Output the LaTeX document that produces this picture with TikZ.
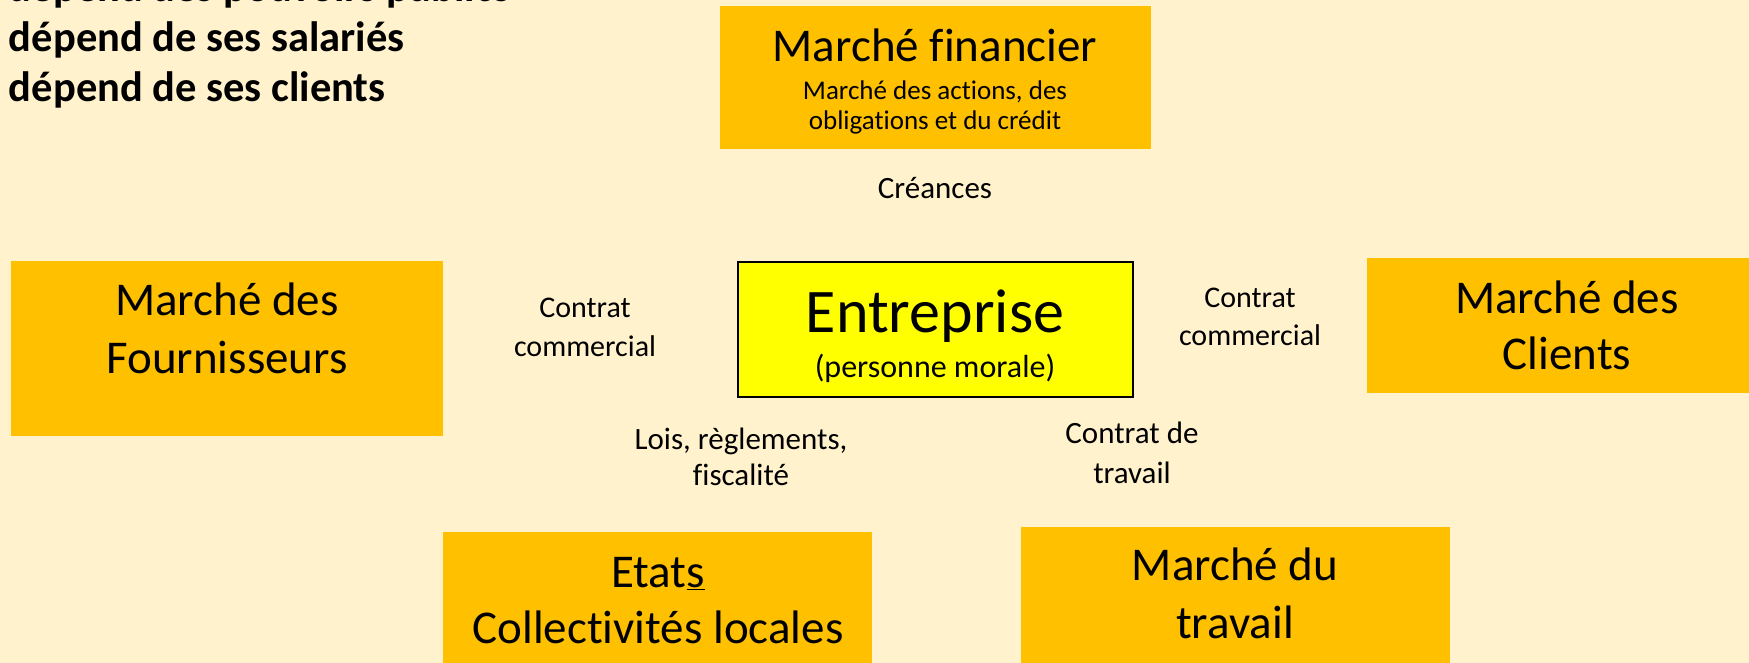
\documentclass[tikz,border=0pt]{standalone}
\usepackage{fontspec}
\setmainfont{Carlito}[Ligatures=NoCommon]
\definecolor{cream}{HTML}{FFF2CC}
\definecolor{gold}{HTML}{FFC000}
\definecolor{brightyellow}{HTML}{FFFF00}
\newcommand\pxsize[1]{\fontsize{#1}{#1}\selectfont}
\begin{document}
\begin{tikzpicture}[x=1pt,y=-1pt,
  market/.style={fill=gold, draw=none, inner sep=0pt, outer sep=0pt, anchor=north west},
  core/.style={fill=brightyellow, draw=black, line width=2pt, inner sep=0pt, outer sep=0pt, anchor=north west},
  txt/.style={inner sep=0pt, outer sep=0pt, anchor=base},
  note/.style={inner sep=0pt, outer sep=0pt, anchor=base west, font=\bfseries\pxsize{42.5}}]
\useasboundingbox (0,0) rectangle (1749,663);
\clip (0,0) rectangle (1749,663);
\fill[cream] (0,0) rectangle (1749,663);

% dependencies listed at the top left (first line runs off the top edge)
\node[note] (dep1) at (9,2)   {dépend des pouvoirs publics};
\node[note] (dep2) at (9,52)  {dépend de ses salariés};
\node[note] (dep3) at (9,102) {dépend de ses clients};

% financial market
\node[market, minimum width=431pt, minimum height=143pt] (fin) at (720,6) {};
\node[txt, font=\pxsize{47}] (fint) at (935,62) {Marché financier};
\node[txt, font=\pxsize{27}] (fins1) at (935,100) {Marché des actions, des};
\node[txt, font=\pxsize{27}] (fins2) at (935,130) {obligations et du crédit};
\node[txt, font=\pxsize{31}] (creances) at (935,199) {Créances};

% suppliers
\node[market, minimum width=432pt, minimum height=175pt] (four) at (11,261) {};
\node[txt, font=\pxsize{47}] (four1) at (227,316) {Marché des};
\node[txt, font=\pxsize{47}] (four2) at (227,373) {Fournisseurs};
\node[txt, font=\pxsize{30}] (cc1a) at (585,317) {Contrat};
\node[txt, font=\pxsize{30}] (cc1b) at (585,356) {commercial};

% the firm
\node[core, minimum width=395pt, minimum height=135pt] (ent) at (738,262) {};
\node[txt, font=\pxsize{62}] (ent1) at (935,332) {Entreprise};
\node[txt, font=\pxsize{32}] (ent2) at (935,377) {(personne morale)};

% customers
\node[txt, font=\pxsize{30}] (cc2a) at (1250,308) {Contrat};
\node[txt, font=\pxsize{30}] (cc2b) at (1250,345) {commercial};
\node[market, minimum width=400pt, minimum height=135pt] (cli) at (1367,258) {};
\node[txt, font=\pxsize{47}] (cli1) at (1567,313) {Marché des};
\node[txt, font=\pxsize{47}] (cli2) at (1567,369) {Clients};

% public authorities
\node[txt, font=\pxsize{31}] (lois1) at (741,449) {Lois, règlements,};
\node[txt, font=\pxsize{31}] (lois2) at (741,485) {fiscalité};
\node[market, minimum width=429pt, minimum height=150pt] (etat) at (443,532) {};
\node[txt, font=\pxsize{47}] (etat1) at (658,587) {Etat\underline{s}};
\node[txt, font=\pxsize{47}] (etat2) at (658,643) {Collectivités locales};

% labour market
\node[txt, font=\pxsize{31}] (ct1) at (1132,443) {Contrat de};
\node[txt, font=\pxsize{31}] (ct2) at (1132,483) {travail};
\node[market, minimum width=429pt, minimum height=150pt] (trav) at (1021,527) {};
\node[txt, font=\pxsize{47}] (trav1) at (1235,580) {Marché du};
\node[txt, font=\pxsize{47}] (trav2) at (1235,638) {travail};
\end{tikzpicture}
\end{document}
